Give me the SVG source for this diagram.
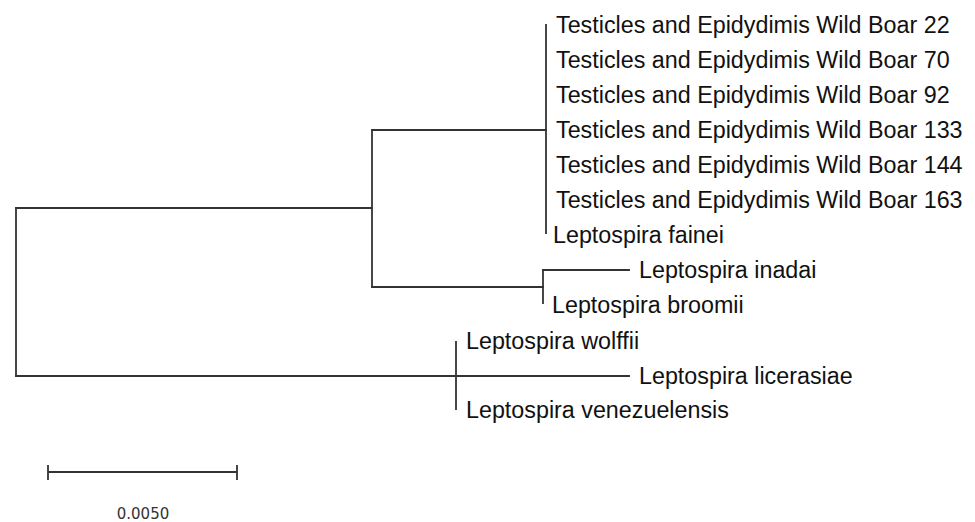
<svg xmlns="http://www.w3.org/2000/svg" width="975" height="522" viewBox="0 0 975 522">
<style>
.br{stroke:#333;stroke-width:1.8;fill:none;stroke-linecap:square}
.lb{font-family:"Liberation Sans",Arial,sans-serif;font-size:23.3px;fill:#111}
.sc{font-family:"DejaVu Sans",sans-serif;font-size:15px;fill:#333}
</style>
<rect width="975" height="522" fill="#fff"/>
<g id="connectors">
<path class="br" d="M16,208 V376"/>
<path class="br" d="M16,208 H372"/>
<path class="br" d="M372,130 V287"/>
<path class="br" d="M372,130 H546"/>
<path class="br" d="M546,25 V233"/>
<path class="br" d="M372,287 H543"/>
<path class="br" d="M543,270 V303"/>
<path class="br" d="M543,270 H629"/>
<path class="br" d="M16,376 H629"/>
<path class="br" d="M456,342 V409"/>
</g>
<g id="wb22"><text class="lb" x="556" y="32.5">Testicles and Epidydimis Wild Boar 22</text></g>
<g id="wb70"><text class="lb" x="556" y="67.5">Testicles and Epidydimis Wild Boar 70</text></g>
<g id="wb92"><text class="lb" x="556" y="102.5">Testicles and Epidydimis Wild Boar 92</text></g>
<g id="wb133"><text class="lb" x="556" y="137.5">Testicles and Epidydimis Wild Boar 133</text></g>
<g id="wb144"><text class="lb" x="556" y="172.5">Testicles and Epidydimis Wild Boar 144</text></g>
<g id="wb163"><text class="lb" x="556" y="207.5">Testicles and Epidydimis Wild Boar 163</text></g>
<g id="fainei"><text class="lb" x="553" y="243">Leptospira fainei</text></g>
<g id="inadai"><text class="lb" x="639" y="278">Leptospira inadai</text></g>
<g id="broomii"><text class="lb" x="552" y="313">Leptospira broomii</text></g>
<g id="wolffii"><text class="lb" x="466" y="349">Leptospira wolffii</text></g>
<g id="licerasiae"><text class="lb" x="639" y="384">Leptospira licerasiae</text></g>
<g id="venezuelensis"><text class="lb" x="466" y="418">Leptospira venezuelensis</text></g>
<g id="scalebar">
<path class="br" d="M48,472 H237 M48,466 V479 M237,466 V479"/>
<text class="sc" x="143" y="519" text-anchor="middle">0.0050</text>
</g>
</svg>
